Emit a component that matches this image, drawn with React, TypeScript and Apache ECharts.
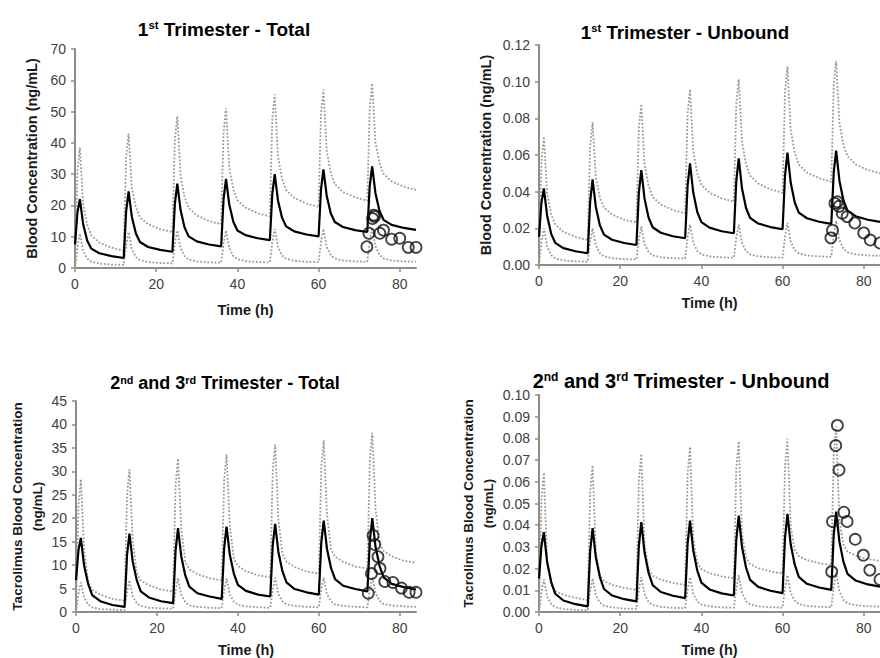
import React, { useEffect, useRef } from 'react';
import * as echarts from 'echarts';

const FONT = '"Liberation Sans", Arial, Helvetica, sans-serif';

// Time grid for model curves (h): doses every 12 h
const TIME = [
  0, 0.6, 1.2, 2, 3, 4, 6, 9,
  12, 12.6, 13.2, 14, 15, 16, 18, 21,
  24, 24.6, 25.2, 26, 27, 28, 30, 33,
  36, 36.6, 37.2, 38, 39, 40, 42, 45,
  48, 48.6, 49.2, 50, 51, 52, 54, 57,
  60, 60.6, 61.2, 62, 63, 64, 66, 69,
  72, 72.6, 73.2, 74, 75, 76, 78, 81,
  84,
];

// 1st Trimester - Total
const P1_MEAN = [7.5, 17.7, 22, 14.1, 8.8, 6.2, 4.7, 3.8, 3.2, 18.1, 24.5, 16.4, 11, 8.3, 6.7, 5.8, 5.2, 20.5, 27, 18.6, 12.9, 10.1, 8.5, 7.5, 6.9, 22, 28.5, 20.3, 14.8, 12, 10.5, 9.5, 8.9, 23.7, 30, 21.6, 16.1, 13.3, 11.7, 10.7, 10.1, 25.1, 31.5, 23.1, 17.5, 14.7, 13.1, 12.1, 11.5, 26.2, 32.5, 24, 18.3, 15.4, 13.8, 12.8, 12.2];
const P1_UPPER = [0, 30.8, 38.5, 20.4, 13.8, 10.5, 8.1, 6.5, 5.5, 35.5, 43, 25.7, 19.4, 16.2, 14, 12.4, 11.5, 41.1, 48.5, 29.5, 22.6, 19.2, 16.8, 15, 14, 43.6, 51, 32, 25.1, 21.7, 19.3, 17.5, 16.5, 47.7, 55.5, 35.7, 28.5, 24.9, 22.4, 20.6, 19.5, 49.5, 57, 37.5, 30.4, 26.8, 24.3, 22.6, 21.5, 51.5, 59, 40.3, 33.5, 30.1, 27.7, 26, 25];
const P1_LOWER = [0, 6.6, 11, 5.5, 3, 2, 1.4, 1.1, 1, 7.3, 11.5, 6, 3.5, 2.5, 1.9, 1.6, 1.5, 7.8, 12, 6.3, 3.8, 2.7, 2.1, 1.8, 1.7, 7.9, 12, 6.4, 3.8, 2.8, 2.2, 1.9, 1.8, 8.2, 12.5, 6.7, 4, 3, 2.3, 2, 1.9, 8.3, 12.5, 6.7, 4.1, 3.1, 2.4, 2.1, 2, 8.6, 13, 7, 4.2, 3.1, 2.4, 2.1, 2];
const P1_OBS_T = [71.9, 72.4, 73.3, 73.6, 73.8, 75.1, 76, 78, 80, 82.1, 84];
const P1_OBS_V = [6.8, 11.1, 15.8, 16.9, 16.5, 11.1, 12.1, 9.2, 9.5, 6.6, 6.6];

// 1st Trimester - Unbound
const P2_MEAN = [0.0154, 0.034, 0.0418, 0.0269, 0.017, 0.0121, 0.0092, 0.0075, 0.0064, 0.0346, 0.0467, 0.0317, 0.0216, 0.0166, 0.0138, 0.012, 0.0109, 0.0395, 0.0518, 0.0362, 0.0258, 0.0206, 0.0176, 0.0157, 0.0146, 0.0432, 0.0555, 0.0395, 0.0288, 0.0234, 0.0204, 0.0184, 0.0173, 0.0459, 0.0582, 0.0419, 0.0311, 0.0257, 0.0226, 0.0207, 0.0195, 0.0488, 0.0613, 0.045, 0.0341, 0.0286, 0.0255, 0.0236, 0.0224, 0.0504, 0.0624, 0.0461, 0.0352, 0.0297, 0.0266, 0.0247, 0.0235];
const P2_UPPER = [0, 0.056, 0.07, 0.039, 0.0277, 0.0221, 0.0181, 0.0153, 0.0136, 0.0651, 0.078, 0.0478, 0.0368, 0.0313, 0.0275, 0.0247, 0.0231, 0.0749, 0.0878, 0.055, 0.0431, 0.0371, 0.033, 0.03, 0.0282, 0.0823, 0.0958, 0.0621, 0.0498, 0.0437, 0.0394, 0.0363, 0.0345, 0.0879, 0.1013, 0.0673, 0.0549, 0.0487, 0.0444, 0.0413, 0.0394, 0.0944, 0.1082, 0.0737, 0.0611, 0.0548, 0.0504, 0.0473, 0.0454, 0.0981, 0.1113, 0.0776, 0.0653, 0.0592, 0.0549, 0.0518, 0.05];
const P2_LOWER = [0, 0.012, 0.02, 0.01, 0.0054, 0.0036, 0.0025, 0.002, 0.0018, 0.0127, 0.02, 0.0107, 0.0064, 0.0047, 0.0037, 0.0032, 0.003, 0.0138, 0.021, 0.0114, 0.007, 0.0053, 0.0042, 0.0037, 0.0035, 0.0146, 0.022, 0.0121, 0.0076, 0.0058, 0.0047, 0.0042, 0.004, 0.0148, 0.022, 0.0121, 0.0076, 0.0058, 0.0047, 0.0042, 0.004, 0.0154, 0.023, 0.0128, 0.0082, 0.0064, 0.0052, 0.0047, 0.0045, 0.0162, 0.024, 0.0136, 0.0088, 0.0069, 0.0058, 0.0052, 0.005];
const P2_OBS_T = [71.9, 72.3, 72.9, 73.5, 73.9, 74.7, 75.9, 77.8, 80, 81.6, 84];
const P2_OBS_V = [0.0148, 0.0189, 0.0336, 0.0345, 0.032, 0.0282, 0.0264, 0.0229, 0.0175, 0.0136, 0.012];

// 2nd and 3rd Trimester - Total
const P3_MEAN = [6.8, 13.1, 15.8, 9.9, 6, 3.6, 2.3, 1.5, 1.1, 12, 16.7, 10.8, 6.8, 4.4, 3.1, 2.3, 1.9, 13.1, 17.9, 11.9, 7.8, 5.4, 4, 3.3, 2.8, 13.6, 18.2, 12.2, 8.2, 5.8, 4.5, 3.7, 3.3, 14.2, 18.8, 12.8, 8.7, 6.3, 4.9, 4.2, 3.7, 14.8, 19.5, 13.5, 9.4, 7, 5.6, 4.9, 4.4, 15.3, 20, 13.9, 9.8, 7.4, 6, 5.3, 4.8];
const P3_UPPER = [0, 22.6, 28.3, 13.3, 6.3, 4.7, 3.7, 2.8, 2.4, 24.8, 30.4, 15.3, 8.3, 6.7, 5.7, 4.8, 4.4, 27, 32.7, 17.7, 10.7, 9.1, 8.1, 7.2, 6.8, 28.2, 33.6, 18.4, 11.3, 9.8, 8.7, 7.8, 7.4, 30, 35.7, 19.8, 12.3, 10.7, 9.6, 8.6, 8.2, 30.9, 36.6, 20.8, 13.4, 11.8, 10.7, 9.7, 9.3, 32.4, 38.2, 22.1, 14.7, 13, 11.9, 10.9, 10.5];
const P3_LOWER = [0, 3.8, 6.3, 3.1, 1.6, 1, 0.6, 0.5, 0.4, 4.2, 6.8, 3.4, 1.9, 1.3, 0.9, 0.8, 0.7, 4.6, 7.2, 3.7, 2.1, 1.4, 1.1, 0.9, 0.8, 4.6, 7.2, 3.7, 2.2, 1.5, 1.2, 1, 0.9, 4.7, 7.3, 3.8, 2.3, 1.6, 1.3, 1.1, 1, 4.8, 7.3, 3.8, 2.3, 1.6, 1.3, 1.1, 1, 4.9, 7.5, 4, 2.4, 1.7, 1.4, 1.2, 1.1];
const P3_OBS_T = [72.2, 73, 73.4, 73.8, 74.6, 75.1, 76.3, 78.3, 80.4, 82.3, 84];
const P3_OBS_V = [4, 8.2, 16.3, 14.4, 11.8, 9.3, 6.5, 6.3, 5.1, 4.2, 4.2];

// 2nd and 3rd Trimester - Unbound
const P4_MEAN = [0.0155, 0.0304, 0.0368, 0.0231, 0.0139, 0.0084, 0.0053, 0.0036, 0.0026, 0.0279, 0.0387, 0.0252, 0.0161, 0.0106, 0.0076, 0.0059, 0.0049, 0.0305, 0.0414, 0.0274, 0.018, 0.0124, 0.0092, 0.0075, 0.0064, 0.0314, 0.0421, 0.0283, 0.019, 0.0135, 0.0104, 0.0086, 0.0076, 0.0334, 0.0444, 0.0301, 0.0205, 0.0148, 0.0116, 0.0098, 0.0087, 0.0342, 0.0452, 0.0312, 0.0218, 0.0162, 0.013, 0.0113, 0.0102, 0.0355, 0.0463, 0.0325, 0.0231, 0.0176, 0.0145, 0.0127, 0.0117];
const P4_UPPER = [0, 0.0514, 0.0642, 0.0232, 0.0126, 0.0097, 0.0079, 0.0065, 0.0056, 0.0552, 0.0676, 0.0274, 0.0171, 0.0142, 0.0125, 0.0111, 0.0102, 0.0604, 0.0729, 0.0306, 0.0197, 0.0167, 0.0149, 0.0134, 0.0125, 0.0634, 0.0761, 0.0337, 0.0228, 0.0197, 0.0179, 0.0164, 0.0155, 0.0661, 0.0787, 0.0361, 0.0251, 0.0221, 0.0202, 0.0187, 0.0178, 0.0674, 0.0798, 0.0391, 0.0286, 0.0257, 0.0239, 0.0225, 0.0216, 0.0727, 0.0855, 0.0421, 0.0309, 0.0278, 0.026, 0.0244, 0.0235];
const P4_LOWER = [0, 0.009, 0.015, 0.0072, 0.0036, 0.0022, 0.0014, 0.001, 0.0008, 0.0096, 0.0155, 0.0078, 0.0043, 0.0029, 0.0021, 0.0016, 0.0015, 0.0102, 0.016, 0.0082, 0.0046, 0.0032, 0.0024, 0.0019, 0.0018, 0.0103, 0.016, 0.0083, 0.0048, 0.0034, 0.0026, 0.0021, 0.002, 0.011, 0.017, 0.0088, 0.005, 0.0035, 0.0026, 0.0022, 0.002, 0.011, 0.017, 0.0089, 0.0052, 0.0037, 0.0028, 0.0024, 0.0022, 0.0117, 0.018, 0.0095, 0.0056, 0.004, 0.0031, 0.0027, 0.0025];
const P4_OBS_T = [72.1, 72.3, 73.1, 73.5, 73.9, 75.1, 75.9, 77.9, 79.9, 81.5, 84];
const P4_OBS_V = [0.0186, 0.0417, 0.0767, 0.086, 0.0654, 0.046, 0.0417, 0.0335, 0.0262, 0.0193, 0.015];

const X_TICKS = [0, 20, 40, 60, 80];

const TITLES = [
  '{n|1}{s|st}{n| Trimester - Total}',
  '{n|1}{s|st}{n| Trimester - Unbound}',
  '{n|2}{s|nd}{n| and 3}{s|rd}{n| Trimester - Total}',
  '{n|2}{s|nd}{n| and 3}{s|rd}{n| Trimester - Unbound}',
];
const Y_NAMES = [
  'Blood Concentration (ng/mL)',
  'Blood Concentration (ng/mL)',
  'Tacrolimus Blood Concentration\n(ng/mL)',
  'Tacrolimus Blood Concentration\n(ng/mL)',
];

const PANELS = [
  { mean: P1_MEAN, upper: P1_UPPER, lower: P1_LOWER, obsT: P1_OBS_T, obsV: P1_OBS_V, yMax: 70, yInt: 10, dec: 0 },
  { mean: P2_MEAN, upper: P2_UPPER, lower: P2_LOWER, obsT: P2_OBS_T, obsV: P2_OBS_V, yMax: 0.12, yInt: 0.02, dec: 2 },
  { mean: P3_MEAN, upper: P3_UPPER, lower: P3_LOWER, obsT: P3_OBS_T, obsV: P3_OBS_V, yMax: 45, yInt: 5, dec: 0 },
  { mean: P4_MEAN, upper: P4_UPPER, lower: P4_LOWER, obsT: P4_OBS_T, obsV: P4_OBS_V, yMax: 0.1, yInt: 0.01, dec: 2 },
];

// layout (pixels)
const GRIDS = [
  { left: 75, top: 49, width: 341, height: 219 },
  { left: 539, top: 45, width: 347, height: 220 },
  { left: 76, top: 401, width: 340, height: 213 },
  { left: 539, top: 395, width: 349, height: 219 },
];
const TITLE_POS = [
  { x: 224, y: 29, size: 19 },
  { x: 685, y: 32, size: 18.7 },
  { x: 225, y: 383, size: 18 },
  { x: 681, y: 381, size: 20 },
];
const Y_NAME_STYLE = [
  { gap: 33, size: 14.5 },
  { gap: 43, size: 14.5 },
  { gap: 25, size: 13.5 },
  { gap: 37, size: 13.5 },
];
const X_NAME_GAP = [34, 30, 30, 30];

const AXIS_COLOR = '#8c8c8c';
const LABEL_COLOR = '#404040';

function buildOption() {
  const title: any[] = [];
  const grid: any[] = [];
  const xAxis: any[] = [];
  const yAxis: any[] = [];
  const series: any[] = [];

  PANELS.forEach((p, i) => {
    const tp = TITLE_POS[i];
    title.push({
      text: TITLES[i],
      left: tp.x,
      top: tp.y,
      textAlign: 'center',
      textVerticalAlign: 'middle',
      padding: 0,
      textStyle: {
        rich: {
          n: { fontSize: tp.size, fontWeight: 'bold', fontFamily: FONT, color: '#000' },
          s: { fontSize: tp.size * 0.6, fontWeight: 'bold', fontFamily: FONT, color: '#000', verticalAlign: 'top' },
        },
      },
    });
    grid.push({ ...GRIDS[i], containLabel: false });
    xAxis.push({
      gridIndex: i,
      type: 'value',
      min: 0,
      max: 84,
      interval: 20,
      name: 'Time (h)',
      nameLocation: 'middle',
      nameGap: X_NAME_GAP[i],
      nameTextStyle: { fontFamily: FONT, fontWeight: 'bold', fontSize: 14.5, color: '#1a1a1a' },
      axisLine: { show: true, lineStyle: { color: AXIS_COLOR, width: 2 } },
      axisTick: { show: true, length: 4, customValues: X_TICKS, lineStyle: { color: AXIS_COLOR, width: 1.5 } },
      axisLabel: { customValues: X_TICKS, fontFamily: FONT, fontSize: 14, color: LABEL_COLOR, margin: 9 },
      splitLine: { show: false },
    });
    const ys = Y_NAME_STYLE[i];
    yAxis.push({
      gridIndex: i,
      type: 'value',
      min: 0,
      max: p.yMax,
      interval: p.yInt,
      name: Y_NAMES[i],
      nameLocation: 'middle',
      nameRotate: 90,
      nameGap: ys.gap,
      nameTextStyle: { fontFamily: FONT, fontWeight: 'bold', fontSize: ys.size, color: '#1a1a1a', lineHeight: 20 },
      axisLine: { show: true, lineStyle: { color: AXIS_COLOR, width: 2 } },
      axisTick: { show: true, length: 4, lineStyle: { color: AXIS_COLOR, width: 1.5 } },
      axisLabel: {
        fontFamily: FONT,
        fontSize: 14,
        color: LABEL_COLOR,
        margin: 9,
        formatter: (v: number) => v.toFixed(p.dec),
      },
      splitLine: { show: false },
    });
    const dotted = { color: '#9a9a9a', width: 1.8, type: [1.8, 1.8] };
    series.push({
      type: 'line', xAxisIndex: i, yAxisIndex: i, symbol: 'none', silent: true,
      data: TIME.map((t, k) => [t, p.lower[k]]), lineStyle: dotted, z: 2,
    });
    series.push({
      type: 'line', xAxisIndex: i, yAxisIndex: i, symbol: 'none', silent: true,
      data: TIME.map((t, k) => [t, p.upper[k]]), lineStyle: dotted, z: 2,
    });
    series.push({
      type: 'line', xAxisIndex: i, yAxisIndex: i, symbol: 'none', silent: true,
      data: TIME.map((t, k) => [t, p.mean[k]]), lineStyle: { color: '#000', width: 2.2 }, z: 3,
    });
    series.push({
      type: 'scatter', xAxisIndex: i, yAxisIndex: i, symbol: 'circle', symbolSize: 11, silent: true,
      data: p.obsT.map((t, k) => [t, p.obsV[k]]),
      itemStyle: { color: 'rgba(255,255,255,0)', borderColor: '#111', borderWidth: 1.8 },
      z: 4,
    });
  });

  return { animation: false, backgroundColor: '#fff', title, grid, xAxis, yAxis, series };
}

export default function App() {
  const ref = useRef<HTMLDivElement>(null);
  useEffect(() => {
    if (!ref.current) return;
    const chart = echarts.init(ref.current, undefined, { renderer: 'svg' });
    chart.setOption(buildOption() as any);
    return () => chart.dispose();
  }, []);
  return (
    <div
      ref={ref}
      style={{ position: 'fixed', left: 0, top: 0, width: 880, height: 658, background: '#fff' }}
    />
  );
}
